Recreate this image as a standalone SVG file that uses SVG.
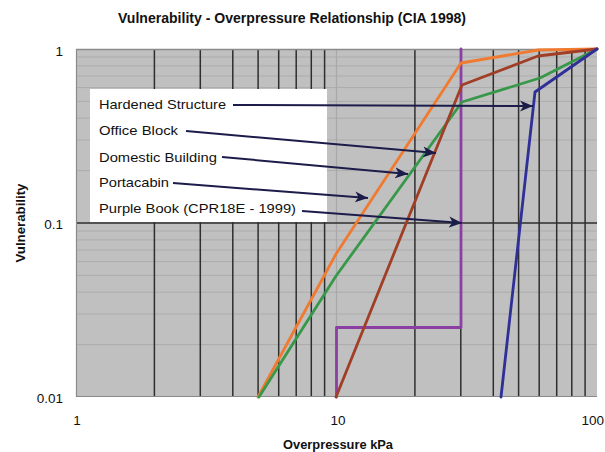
<svg xmlns="http://www.w3.org/2000/svg" width="605" height="452" viewBox="0 0 605 452">
<style>
  text { font-family: "Liberation Sans", Arial, sans-serif; fill: #111; }
  .title { font-size: 14px; font-weight: bold; }
  .axis { font-size: 13px; font-weight: bold; }
  .tick { font-size: 13.5px; }
  .leg { font-size: 13.5px; }
  .vminor { stroke: #2e2e2e; stroke-width: 1.5; }
  .hminor { stroke: #acacac; stroke-width: 1; }
  .series { fill: none; stroke-width: 2.8; stroke-linejoin: round; stroke-linecap: round; }
  .arrow { fill: none; stroke: #1c1c4a; stroke-width: 2; marker-end: url(#ah); }
</style>
<defs>
  <marker id="ah" markerUnits="userSpaceOnUse" markerWidth="14" markerHeight="12" refX="13" refY="6" orient="auto">
    <path d="M0,0.5 L13,6 L0,11.5 L3.5,6 Z" fill="#1c1c4a"/>
  </marker>
</defs>
<rect width="605" height="452" fill="#ffffff"/>
<text class="title" x="292" y="23" text-anchor="middle" textLength="348" lengthAdjust="spacingAndGlyphs">Vulnerability - Overpressure Relationship (CIA 1998)</text>

<g id="plot-area">
  <rect x="76" y="49" width="521" height="348" fill="#c0c0c0"/>
  <g id="h-gridlines">
    <line class="hminor" x1="76" y1="57" x2="597" y2="57"/>
    <line class="hminor" x1="76" y1="65.9" x2="597" y2="65.9"/>
    <line class="hminor" x1="76" y1="76" x2="597" y2="76"/>
    <line class="hminor" x1="76" y1="87.6" x2="597" y2="87.6"/>
    <line class="hminor" x1="76" y1="101.4" x2="597" y2="101.4"/>
    <line class="hminor" x1="76" y1="118.2" x2="597" y2="118.2"/>
    <line class="hminor" x1="76" y1="140" x2="597" y2="140"/>
    <line class="hminor" x1="76" y1="170.6" x2="597" y2="170.6"/>
    <line class="hminor" x1="76" y1="231" x2="597" y2="231"/>
    <line class="hminor" x1="76" y1="239.9" x2="597" y2="239.9"/>
    <line class="hminor" x1="76" y1="250" x2="597" y2="250"/>
    <line class="hminor" x1="76" y1="261.6" x2="597" y2="261.6"/>
    <line class="hminor" x1="76" y1="275.4" x2="597" y2="275.4"/>
    <line class="hminor" x1="76" y1="292.2" x2="597" y2="292.2"/>
    <line class="hminor" x1="76" y1="314" x2="597" y2="314"/>
    <line class="hminor" x1="76" y1="344.6" x2="597" y2="344.6"/>
  </g>
  <g id="v-gridlines">
    <line class="vminor" x1="154.4" y1="49" x2="154.4" y2="397"/>
    <line class="vminor" x1="200.3" y1="49" x2="200.3" y2="397"/>
    <line class="vminor" x1="232.8" y1="49" x2="232.8" y2="397"/>
    <line class="vminor" x1="258.1" y1="49" x2="258.1" y2="397"/>
    <line class="vminor" x1="278.7" y1="49" x2="278.7" y2="397"/>
    <line class="vminor" x1="296.2" y1="49" x2="296.2" y2="397"/>
    <line class="vminor" x1="311.3" y1="49" x2="311.3" y2="397"/>
    <line class="vminor" x1="324.6" y1="49" x2="324.6" y2="397"/>
    <line x1="336.5" y1="49" x2="336.5" y2="397" stroke="#a8a8a8" stroke-width="1.2"/>
    <line class="vminor" x1="414.9" y1="49" x2="414.9" y2="397"/>
    <line class="vminor" x1="460.8" y1="49" x2="460.8" y2="397"/>
    <line class="vminor" x1="493.3" y1="49" x2="493.3" y2="397"/>
    <line class="vminor" x1="518.6" y1="49" x2="518.6" y2="397"/>
    <line class="vminor" x1="539.2" y1="49" x2="539.2" y2="397"/>
    <line class="vminor" x1="556.7" y1="49" x2="556.7" y2="397"/>
    <line class="vminor" x1="571.8" y1="49" x2="571.8" y2="397"/>
    <line class="vminor" x1="585.1" y1="49" x2="585.1" y2="397"/>
  </g>
  <line x1="76" y1="223" x2="597" y2="223" stroke="#2e2e2e" stroke-width="1.5"/>
  <line x1="76" y1="49.5" x2="597" y2="49.5" stroke="#8a8a8a" stroke-width="1.5"/>
  <line x1="76.5" y1="49" x2="76.5" y2="397" stroke="#8a8a8a" stroke-width="1.2"/>
  <line x1="76" y1="396.5" x2="597" y2="396.5" stroke="#8a8a8a" stroke-width="1.2"/>
</g>

<g id="legend-box">
  <rect x="90" y="89" width="237" height="133" fill="#ffffff"/>
</g>

<g id="series">
  <polyline id="purple-book" class="series" stroke="#8b3fa3" points="461,49 461,327.5 336.5,327.5 336.5,397"/>
  <polyline id="orange" class="series" stroke="#f07a30" points="258,397 336,254 461,63 538,50 597,49"/>
  <polyline id="green" class="series" stroke="#38984a" points="259,397 336,276 462,102 540,78 597,49"/>
  <polyline id="brown" class="series" stroke="#a03e26" points="336,397 462,85 538,56 597,49"/>
  <polyline id="blue" class="series" stroke="#2f2f98" points="501,397 535,92 597,49"/>
</g>

<g id="axis-labels">
  <text class="tick" x="63" y="56" text-anchor="end">1</text>
  <text class="tick" x="63" y="229" text-anchor="end">0.1</text>
  <text class="tick" x="63" y="403" text-anchor="end">0.01</text>
  <text class="tick" x="77" y="425" text-anchor="middle">1</text>
  <text class="tick" x="338" y="425" text-anchor="middle">10</text>
  <text class="tick" x="604" y="425" text-anchor="end">100</text>
  <text class="axis" x="338" y="449" text-anchor="middle" textLength="110" lengthAdjust="spacingAndGlyphs">Overpressure kPa</text>
  <text class="axis" transform="translate(25,223) rotate(-90)" text-anchor="middle" textLength="79" lengthAdjust="spacingAndGlyphs">Vulnerability</text>
</g>

<g id="legend-hardened"><text class="leg" x="99" y="109" textLength="127" lengthAdjust="spacingAndGlyphs">Hardened Structure</text></g>
<g id="legend-office"><text class="leg" x="99" y="135" textLength="79" lengthAdjust="spacingAndGlyphs">Office Block</text></g>
<g id="legend-domestic"><text class="leg" x="99" y="162" textLength="118" lengthAdjust="spacingAndGlyphs">Domestic Building</text></g>
<g id="legend-portacabin"><text class="leg" x="99" y="187" textLength="70" lengthAdjust="spacingAndGlyphs">Portacabin</text></g>
<g id="legend-purple"><text class="leg" x="99" y="213" textLength="197" lengthAdjust="spacingAndGlyphs">Purple Book (CPR18E - 1999)</text></g>

<g id="connectors">
  <line class="arrow" x1="233" y1="105" x2="533" y2="106"/>
  <line class="arrow" x1="186" y1="131" x2="436" y2="153"/>
  <line class="arrow" x1="222" y1="157" x2="408" y2="174"/>
  <line class="arrow" x1="173" y1="183" x2="368" y2="198"/>
  <line class="arrow" x1="302" y1="211" x2="462" y2="223"/>
</g>
</svg>
